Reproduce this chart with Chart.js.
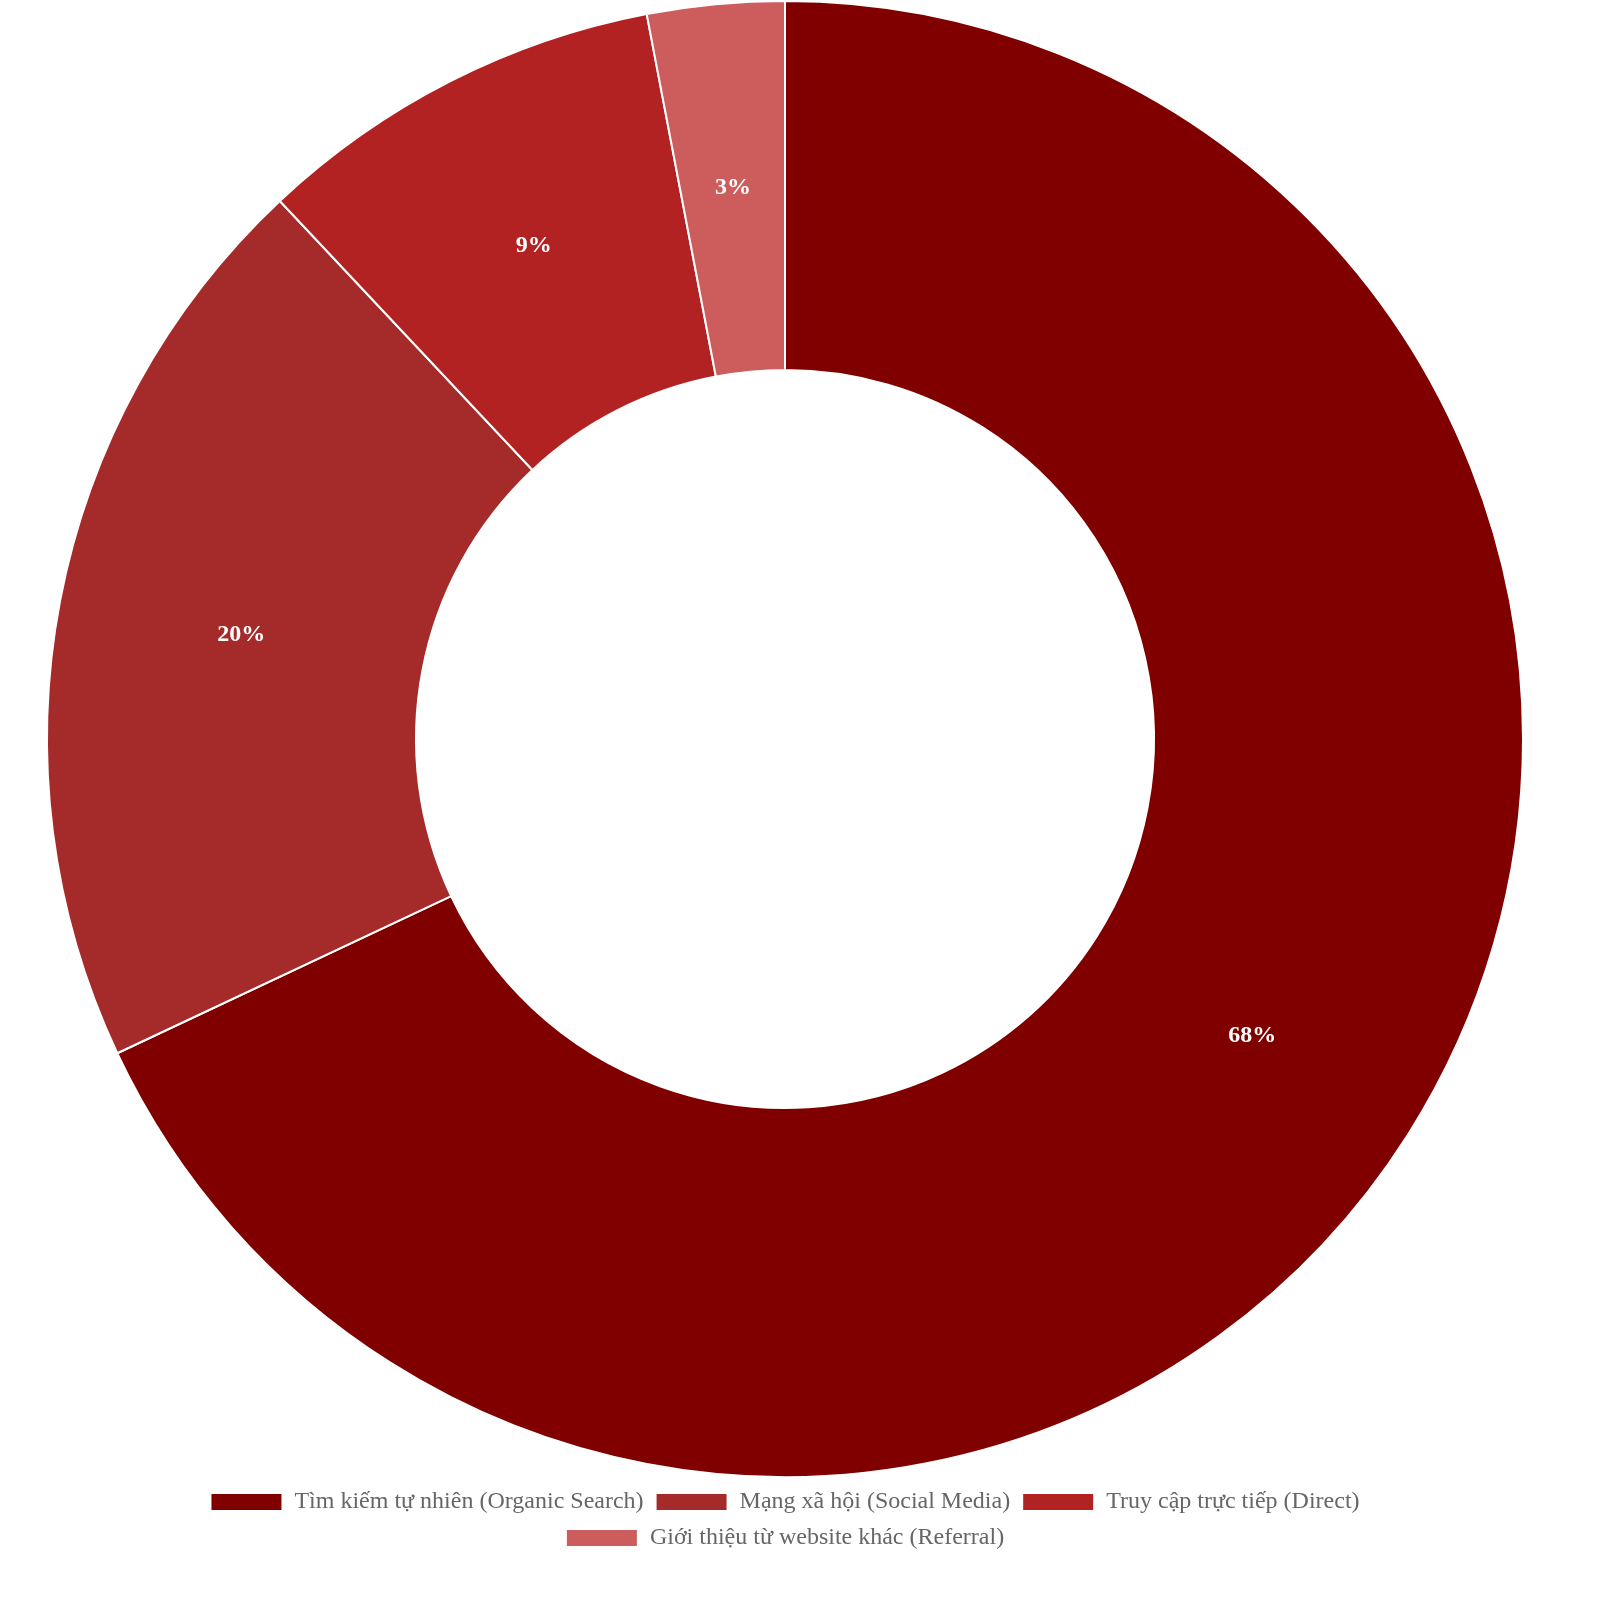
<!DOCTYPE html>
<html>
<head>
<meta charset="utf-8">
<script src="https://cdn.jsdelivr.net/npm/chart.js@4"></script>
<style>
  html, body { margin: 0; background: #fff; overflow: hidden; }
  #wrap { width: 1570px; height: 1560px; }
</style>
</head>
<body>
<div id="wrap"><canvas id="chart"></canvas></div>
<script>
const labels = ['Tìm kiếm tự nhiên (Organic Search)', 'Mạng xã hội (Social Media)', 'Truy cập trực tiếp (Direct)', 'Giới thiệu từ website khác (Referral)'];
const values = [68, 20, 9, 3];
const colors = ['#800000', '#A52A2A', '#B22222', '#CD5C5C'];

// percentage text on each slice
const sliceLabels = {
    id: 'sliceLabels',
    afterDatasetsDraw(chart) {
        const ctx = chart.ctx;
        const total = values.reduce((a, b) => a + b, 0);
        ctx.save();
        ctx.fillStyle = '#fff';
        ctx.font = 'bold 24px "Liberation Serif", serif';
        ctx.textAlign = 'center';
        ctx.textBaseline = 'middle';
        chart.getDatasetMeta(0).data.forEach((arc, i) => {
            const p = arc.tooltipPosition();
            ctx.fillText(Math.round(values[i] / total * 100) + '%', p.x, p.y);
        });
        ctx.restore();
    }
};

Chart.defaults.font.family = '"Liberation Serif", serif';

new Chart(document.getElementById('chart'), {
    type: 'doughnut',
    data: { labels: labels, datasets: [{ data: values, backgroundColor: colors, borderColor: '#fff', borderWidth: 2 }] },
    options: {
        responsive: true,
        maintainAspectRatio: false,
        animation: false,
        cutout: '50%',
        plugins: {
            legend: {
                position: 'bottom',
                labels: { color: '#666', font: { size: 24 }, boxWidth: 72, boxHeight: 18, padding: 12 }
            },
            tooltip: { enabled: false }
        }
    },
    plugins: [sliceLabels]
});
</script>
</body>
</html>
